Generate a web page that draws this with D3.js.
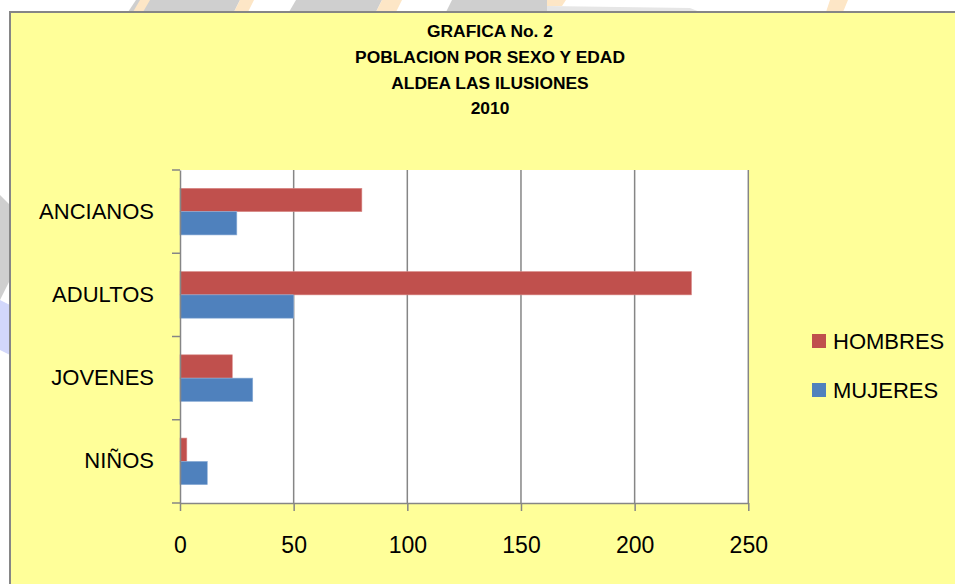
<!DOCTYPE html>
<html>
<head>
<meta charset="utf-8">
<script src="https://cdn.jsdelivr.net/npm/d3@7/dist/d3.min.js"></script>
<style>
  html, body { margin: 0; padding: 0; background: #ffffff; }
  svg { display: block; }
</style>
</head>
<body>
<svg id="chart" width="955" height="584"></svg>
<script>
// ---- data ----
const categories = ["ANCIANOS", "ADULTOS", "JOVENES", "NIÑOS"];
const seriesNames = ["HOMBRES", "MUJERES"];
const hombres = [80, 225, 23, 3];
const mujeres = [25, 50, 32, 12];
const xTicks = [0, 50, 100, 150, 200, 250];
const titleLines = ["GRAFICA No. 2", "POBLACION POR SEXO Y EDAD", "ALDEA LAS ILUSIONES", "2010"];
const colors = { HOMBRES: "#C0504D", MUJERES: "#4F81BD" };

const svg = d3.select("#chart");
const axisColor = "#868686";
const font = "'Liberation Sans', Arial, sans-serif";

// ---- faint watermark fragments behind the chart frame ----
const deco = svg.append("g");
const polys = [
  { c: "#cfcfcf", p: [[136,0],[240,0],[234,12],[128,12]] },
  { c: "#fde6c6", p: [[140,0],[150,0],[143,12],[133,12]] },
  { c: "#fde6c6", p: [[240,0],[254,0],[248,12],[234,12]] },
  { c: "#cfcfcf", p: [[296,0],[382,0],[376,12],[289,12]] },
  { c: "#fde6c6", p: [[382,0],[402,0],[396,12],[376,12]] },
  { c: "#cfcfcf", p: [[452,0],[547,0],[547,12],[446,12]] },
  { c: "#fde6c6", p: [[547,0],[566,0],[562,6],[547,6]] },
  { c: "#e6e6e6", p: [[547,6],[690,8],[700,12],[547,12]] },
  { c: "#fde6c6", p: [[830,0],[848,0],[843,12],[826,12]] },
  { c: "#cfcfcf", p: [[0,195],[10,205],[10,280],[0,300]] },
  { c: "#d2d7fb", p: [[0,300],[10,305],[10,355],[0,350]] }
];
polys.forEach(d => deco.append("polygon")
  .attr("points", d.p.map(q => q.join(",")).join(" "))
  .attr("fill", d.c));

// ---- chart area frame ----
svg.append("rect")
  .attr("x", 10).attr("y", 12)
  .attr("width", 960).attr("height", 600)
  .attr("fill", "#FFFF99")
  .attr("stroke", axisColor)
  .attr("stroke-width", 2);

// ---- title ----
const title = svg.append("g")
  .attr("font-family", font)
  .attr("font-weight", "bold")
  .attr("font-size", "17.4px")
  .attr("text-anchor", "middle")
  .attr("fill", "#000");
titleLines.forEach((t, i) => {
  title.append("text").attr("x", 490).attr("y", 36.7 + i * 25.9).text(t);
});

// ---- scales ----
const plot = { left: 180, right: 748.3, top: 170, bottom: 503 };
const x = d3.scaleLinear().domain([0, 250]).range([plot.left, plot.right]);
const y = d3.scaleBand().domain(categories).range([plot.top, plot.bottom]).paddingInner(0).paddingOuter(0);
const barH = y.bandwidth() * 0.28;
const sub = d3.scaleBand().domain(seriesNames)
  .range([y.bandwidth() / 2 - barH, y.bandwidth() / 2 + barH]);

// plot background
svg.append("rect")
  .attr("x", plot.left).attr("y", plot.top)
  .attr("width", plot.right - plot.left).attr("height", plot.bottom - plot.top)
  .attr("fill", "#ffffff");

// gridlines
svg.append("g").selectAll("line")
  .data(xTicks.filter(v => v > 0))
  .join("line")
  .attr("x1", d => x(d)).attr("x2", d => x(d))
  .attr("y1", plot.top).attr("y2", plot.bottom)
  .attr("stroke", axisColor).attr("stroke-width", 1.5);

// bars
const rows = categories.map((c, i) => ({ cat: c, HOMBRES: hombres[i], MUJERES: mujeres[i] }));
const groups = svg.append("g").selectAll("g")
  .data(rows).join("g")
  .attr("transform", d => `translate(0,${y(d.cat)})`);
groups.selectAll("rect")
  .data(d => seriesNames.map(s => ({ s, v: d[s] })))
  .join("rect")
  .attr("x", x(0))
  .attr("y", d => sub(d.s))
  .attr("width", d => x(d.v) - x(0))
  .attr("height", sub.bandwidth())
  .attr("fill", d => colors[d.s])
  .attr("stroke", d => d.s === "HOMBRES" ? "#d98a88" : "#8fb0d8")
  .attr("stroke-width", 0.6);

// x axis
const xAxis = svg.append("g")
  .attr("transform", `translate(0,${plot.bottom})`)
  .call(d3.axisBottom(x).tickValues(xTicks).tickSize(8).tickSizeOuter(0).tickPadding(26).tickFormat(d3.format("d")));
xAxis.select(".domain").attr("stroke", axisColor).attr("stroke-width", 1.5);
xAxis.selectAll(".tick line").attr("stroke", axisColor).attr("stroke-width", 1.5);
xAxis.selectAll("text").attr("font-family", font).attr("font-size", "23px").attr("fill", "#000");

// y axis (labels)
const yAxis = svg.append("g")
  .attr("transform", `translate(${plot.left},0)`)
  .call(d3.axisLeft(y).tickSize(0).tickPadding(26));
yAxis.select(".domain").attr("stroke", axisColor).attr("stroke-width", 1.5);
yAxis.selectAll("text").attr("font-family", font).attr("font-size", "22px").attr("fill", "#000");

// y axis boundary ticks
const bounds = categories.map(c => y(c)).concat([y(categories[categories.length - 1]) + y.bandwidth()]);
svg.append("g").selectAll("line")
  .data(bounds).join("line")
  .attr("x1", plot.left - 8).attr("x2", plot.left)
  .attr("y1", d => d).attr("y2", d => d)
  .attr("stroke", axisColor).attr("stroke-width", 1.5);

// legend
const legend = svg.append("g").attr("font-family", font).attr("font-size", "22px");
seriesNames.forEach((s, i) => {
  const yy = 349 + i * 49;
  legend.append("rect")
    .attr("x", 812).attr("y", yy - 15).attr("width", 14).attr("height", 14)
    .attr("fill", colors[s]);
  legend.append("text").attr("x", 833).attr("y", yy).attr("fill", "#000").text(s);
});
</script>
</body>
</html>
